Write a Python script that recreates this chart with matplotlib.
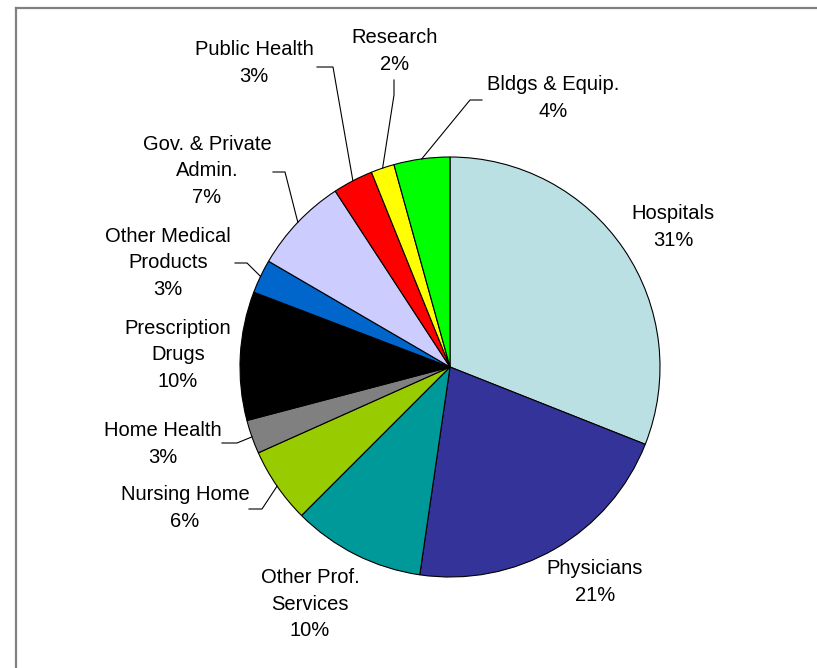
import numpy as np
import matplotlib
matplotlib.use("Agg")
import matplotlib.pyplot as plt
from matplotlib.lines import Line2D

plt.rcParams['font.family'] = ['Liberation Sans', 'DejaVu Sans']

# National health expenditure shares, clockwise from 12 o'clock
categories = ["Hospitals", "Physicians", "Other Prof.\nServices", "Nursing Home",
              "Home Health", "Prescription\nDrugs", "Other Medical\nProducts",
              "Gov. & Private\nAdmin.", "Public Health", "Research", "Bldgs & Equip."]
shares = [31.0, 21.3, 10.2, 5.8, 2.6, 9.9, 2.6, 7.4, 3.1, 1.8, 4.3]
colors = ["#BBE0E3", "#333399", "#009999", "#99CC00", "#808080", "#000000",
          "#0066CC", "#CCCCFF", "#FF0000", "#FFFF00", "#00FF00"]

W, H = 817, 668
fig = plt.figure(figsize=(W / 100, H / 100), dpi=100)
ax = fig.add_axes([0, 0, 1, 1])

cx, cy, R = 450, H - 367, 210
ax.pie(shares, colors=colors, startangle=90, counterclock=False,
       center=(cx, cy), radius=R,
       wedgeprops=dict(edgecolor="black", linewidth=0.8))
ax.set_xlim(0, W)
ax.set_ylim(0, H)
ax.set_aspect("equal")
ax.axis("off")

# label anchor (text centre) and optional leader elbow, in pixel space (y down)
label_pos = [(673, 227), (595, 582), (310, 604), (185, 508), (163, 444),
             (178, 355), (168, 263), (207, 171), (254, 63), (395, 51), (553, 98)]
leaders = [None, None, None,
           [(249, 509), (262, 509)],
           [(222, 443), (237, 443)],
           None,
           [(235, 263), (247, 263)],
           [(273, 172), (285, 172)],
           [(317, 67), (333, 67)],
           [(394, 80), (394, 95)],
           [(482, 100), (470, 100)]]

cum = np.cumsum([0] + shares[:-1])
for i, (name, v) in enumerate(zip(categories, shares)):
    lx, ly = label_pos[i]
    ax.text(lx, H - ly, f"{name}\n{v:.0f}%", ha="center", va="center",
            fontsize=14.5, linespacing=1.47, color="black")
    if leaders[i] is not None:
        mid = np.deg2rad(90 - (cum[i] + v / 2) * 3.6)
        ex, ey = cx + R * np.cos(mid), cy + R * np.sin(mid)
        xs = [p[0] for p in leaders[i]] + [ex]
        ys = [H - p[1] for p in leaders[i]] + [ey]
        ax.plot(xs, ys, color="black", linewidth=0.8)

# outer frame: left and top edges
fig.add_artist(Line2D([15.5 / W, 15.5 / W], [0, 1 - 8 / H], transform=fig.transFigure,
                      color="#808080", linewidth=1.6))
fig.add_artist(Line2D([15.5 / W, 1], [1 - 8 / H, 1 - 8 / H], transform=fig.transFigure,
                      color="#808080", linewidth=1.6))

fig.savefig("out.png", dpi=100, facecolor="white")
